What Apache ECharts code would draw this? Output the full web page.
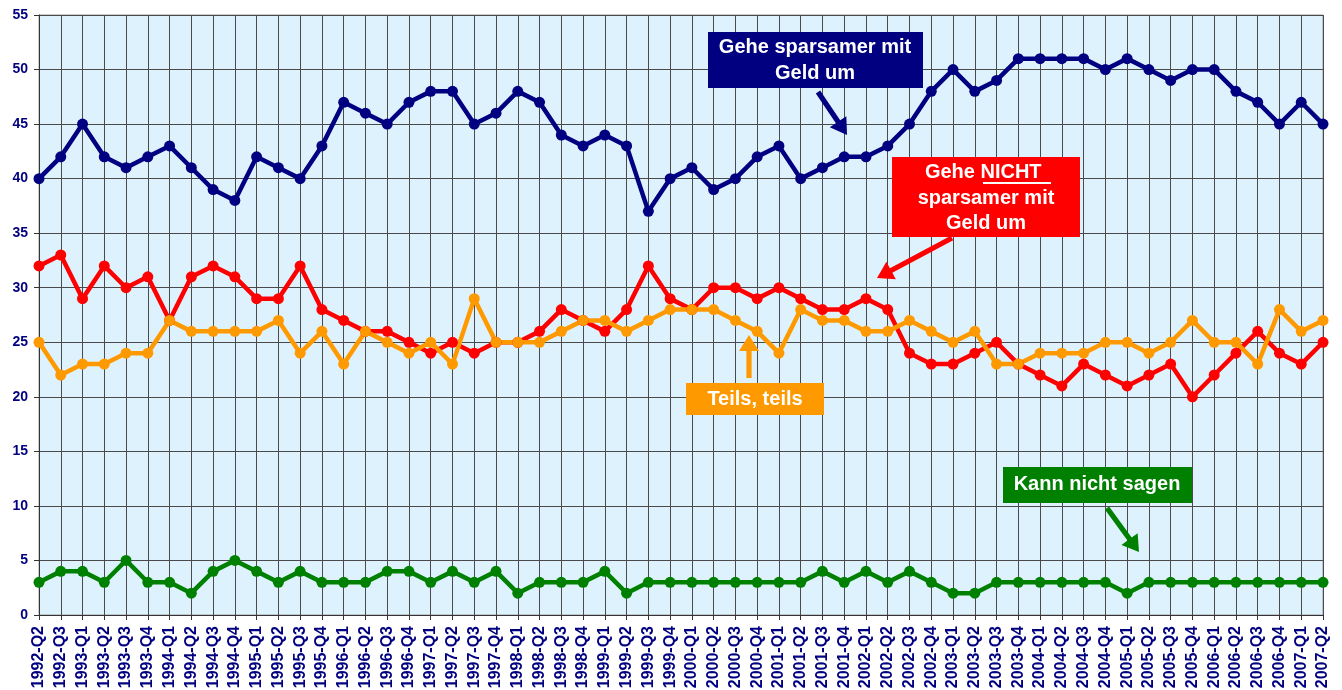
<!DOCTYPE html>
<html>
<head>
<meta charset="utf-8">
<title>Sparverhalten</title>
<script src="https://cdn.jsdelivr.net/npm/echarts@6/dist/echarts.min.js"></script>
<style>
  html, body { margin: 0; padding: 0; background: #fff; }
  #chart { width: 1342px; height: 690px; }
</style>
</head>
<body>
<div id="chart"></div>
<script>
const quarters = [
  '1992-Q2', '1992-Q3', '1993-Q1', '1993-Q2', '1993-Q3', '1993-Q4',
  '1994-Q1', '1994-Q2', '1994-Q3', '1994-Q4', '1995-Q1', '1995-Q2',
  '1995-Q3', '1995-Q4', '1996-Q1', '1996-Q2', '1996-Q3', '1996-Q4',
  '1997-Q1', '1997-Q2', '1997-Q3', '1997-Q4', '1998-Q1', '1998-Q2',
  '1998-Q3', '1998-Q4', '1999-Q1', '1999-Q2', '1999-Q3', '1999-Q4',
  '2000-Q1', '2000-Q2', '2000-Q3', '2000-Q4', '2001-Q1', '2001-Q2',
  '2001-Q3', '2001-Q4', '2002-Q1', '2002-Q2', '2002-Q3', '2002-Q4',
  '2003-Q1', '2003-Q2', '2003-Q3', '2003-Q4', '2004-Q1', '2004-Q2',
  '2004-Q3', '2004-Q4', '2005-Q1', '2005-Q2', '2005-Q3', '2005-Q4',
  '2006-Q1', '2006-Q2', '2006-Q3', '2006-Q4', '2007-Q1', '2007-Q2'
];

// Gehe sparsamer mit Geld um
const sparsamer = [40, 42, 45, 42, 41, 42, 43, 41, 39, 38, 42, 41, 40, 43, 47, 46, 45, 47, 48, 48,
  45, 46, 48, 47, 44, 43, 44, 43, 37, 40, 41, 39, 40, 42, 43, 40, 41, 42, 42, 43,
  45, 48, 50, 48, 49, 51, 51, 51, 51, 50, 51, 50, 49, 50, 50, 48, 47, 45, 47, 45];

// Gehe NICHT sparsamer mit Geld um
const nichtSparsamer = [32, 33, 29, 32, 30, 31, 27, 31, 32, 31, 29, 29, 32, 28, 27, 26, 26, 25, 24, 25,
  24, 25, 25, 26, 28, 27, 26, 28, 32, 29, 28, 30, 30, 29, 30, 29, 28, 28, 29, 28,
  24, 23, 23, 24, 25, 23, 22, 21, 23, 22, 21, 22, 23, 20, 22, 24, 26, 24, 23, 25];

// Teils, teils
const teils = [25, 22, 23, 23, 24, 24, 27, 26, 26, 26, 26, 27, 24, 26, 23, 26, 25, 24, 25, 23,
  29, 25, 25, 25, 26, 27, 27, 26, 27, 28, 28, 28, 27, 26, 24, 28, 27, 27, 26, 26,
  27, 26, 25, 26, 23, 23, 24, 24, 24, 25, 25, 24, 25, 27, 25, 25, 23, 28, 26, 27];

// Kann nicht sagen
const kannNicht = [3, 4, 4, 3, 5, 3, 3, 2, 4, 5, 4, 3, 4, 3, 3, 3, 4, 4, 3, 4,
  3, 4, 2, 3, 3, 3, 4, 2, 3, 3, 3, 3, 3, 3, 3, 3, 4, 3, 4, 3,
  4, 3, 2, 2, 3, 3, 3, 3, 3, 3, 2, 3, 3, 3, 3, 3, 3, 3, 3, 3];

const NAVY = '#000080', RED = '#FF0000', ORANGE = '#FF9900', GREEN = '#008000';
const FONT = '"Liberation Sans", Arial, sans-serif';

// arrow as a polygon: shaft + triangular head
function arrow(x1, y1, x2, y2, color) {
  const dx = x2 - x1, dy = y2 - y1, len = Math.hypot(dx, dy);
  const ux = dx / len, uy = dy / len, px = -uy, py = ux;
  const hl = 16, hw = 10, sw = 2.6;
  const bx = x2 - ux * hl, by = y2 - uy * hl;
  return {
    type: 'polygon',
    silent: true,
    shape: {
      points: [
        [x1 + px * sw, y1 + py * sw], [bx + px * sw, by + py * sw], [bx + px * hw, by + py * hw],
        [x2, y2],
        [bx - px * hw, by - py * hw], [bx - px * sw, by - py * sw], [x1 - px * sw, y1 - py * sw]
      ]
    },
    style: { fill: color },
    z: 100
  };
}

function box(x, y, w, h, color) {
  return { type: 'rect', silent: true, shape: { x: x, y: y, width: w, height: h }, style: { fill: color }, z: 100 };
}

function label(text, x, y) {
  return {
    type: 'text', silent: true, x: x, y: y, z: 101,
    style: { text: text, fill: '#fff', font: 'bold 20px ' + FONT, align: 'center', verticalAlign: 'middle' }
  };
}

function lineSeries(name, data, color) {
  return {
    name: name,
    type: 'line',
    data: data,
    symbol: 'circle',
    symbolSize: 11,
    lineStyle: { color: color, width: 4.5 },
    itemStyle: { color: color },
    emphasis: { disabled: true }
  };
}

const chart = echarts.init(document.getElementById('chart'));
chart.setOption({
  animation: false,
  backgroundColor: '#fff',
  grid: {
    left: 39, right: 19, top: 15, bottom: 75,
    containLabel: false, outerBoundsMode: 'none',
    show: true, backgroundColor: '#DEF2FD', borderColor: '#9a9a9a', borderWidth: 1
  },
  xAxis: {
    type: 'category',
    data: quarters,
    boundaryGap: false,
    axisLine: { lineStyle: { color: '#333', width: 1 } },
    axisTick: { show: true, interval: 0, length: 5, lineStyle: { color: '#333' } },
    axisLabel: { interval: 0, rotate: 90, margin: 11, color: NAVY, fontWeight: 'bold', fontSize: 16, fontFamily: FONT },
    splitLine: { show: true, interval: 0, lineStyle: { color: '#4a4a4a', width: 1 } }
  },
  yAxis: {
    type: 'value',
    min: 0,
    max: 55,
    interval: 5,
    axisLine: { show: true, lineStyle: { color: '#333', width: 1 } },
    axisTick: { show: true, length: 5, lineStyle: { color: '#333' } },
    axisLabel: { margin: 11, color: NAVY, fontWeight: 'bold', fontSize: 14, fontFamily: FONT },
    splitLine: { show: true, lineStyle: { color: '#4a4a4a', width: 1 } }
  },
  series: [
    lineSeries('Gehe sparsamer mit Geld um', sparsamer, NAVY),
    lineSeries('Gehe NICHT sparsamer mit Geld um', nichtSparsamer, RED),
    lineSeries('Teils, teils', teils, ORANGE),
    lineSeries('Kann nicht sagen', kannNicht, GREEN)
  ],
  graphic: [
    box(708, 32, 215, 56, NAVY),
    label('Gehe sparsamer mit', 815, 47),
    label('Geld um', 815, 73),
    arrow(818, 92, 847, 135, NAVY),

    box(892, 157, 188, 80, RED),
    label('Gehe NICHT ', 986, 172),
    { type: 'line', silent: true, z: 101, shape: { x1: 983, y1: 183, x2: 1051, y2: 183 }, style: { stroke: '#fff', lineWidth: 2 } },
    label('sparsamer mit', 986, 198),
    label('Geld um', 986, 223),
    arrow(952, 238, 877, 278, RED),

    box(686, 383, 138, 32, ORANGE),
    label('Teils, teils', 755, 399),
    arrow(749, 378, 749, 335, ORANGE),

    box(1003, 467, 189, 36, GREEN),
    label('Kann nicht sagen', 1097, 484),
    arrow(1107, 508, 1139, 552, GREEN)
  ]
});
</script>
</body>
</html>
